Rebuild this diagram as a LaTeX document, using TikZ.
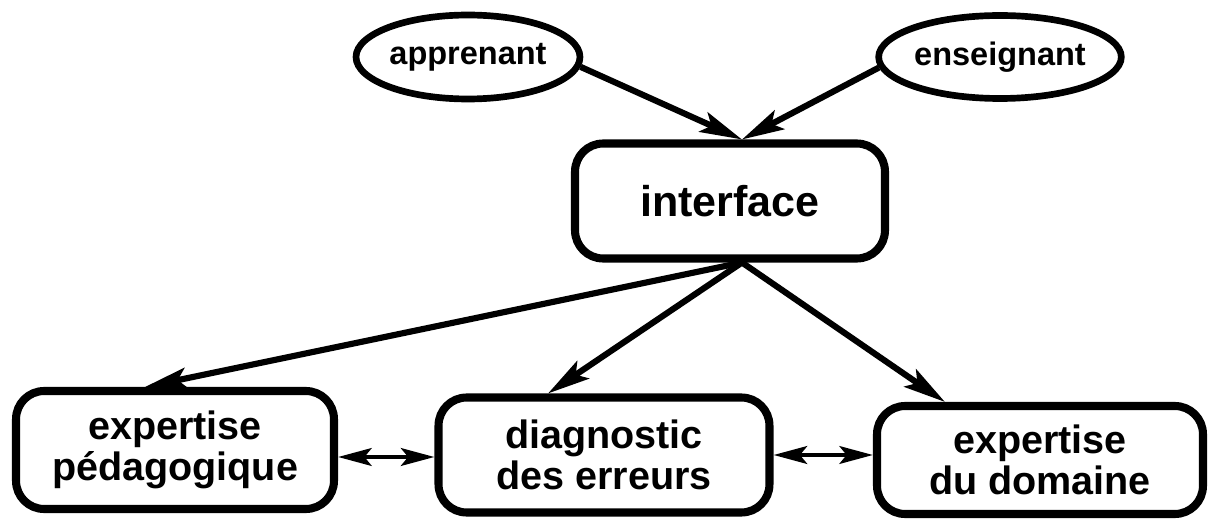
\documentclass[tikz,border=0pt]{standalone}
\usepackage{fontspec}
\setmainfont{Liberation Sans}
\usepackage{tikz}
\usetikzlibrary{calc,shapes.geometric}
\usetikzlibrary{arrows.meta}
\tikzstyle{actor}=[ellipse,draw,line width=3.8pt,inner sep=0pt,font=\fontsize{18.5}{21}\selectfont\bfseries]
\tikzstyle{module}=[rectangle,draw,rounded corners=16pt,line width=4.6pt,inner sep=0pt,align=center,font=\fontsize{22.5}{23.5}\selectfont\bfseries]
\tikzstyle{flow}=[-{Stealth[length=24pt,width=12pt,inset=5pt]},line width=3.5pt]
\tikzstyle{link}=[{Stealth[length=19pt,width=10pt,inset=4pt]}-{Stealth[length=19pt,width=10pt,inset=4pt]},line width=2.8pt]

\begin{document}
\begin{tikzpicture}[x=0.02cm,y=-0.02cm]
    \useasboundingbox (0,0) rectangle (1215,520);

    % the two users
    \node[actor,minimum width=4.48cm,minimum height=1.68cm] (app) at (468,57) {apprenant};
    \node[actor,minimum width=4.58cm,minimum height=1.66cm] (ens) at (1000,57) {enseignant};

    % interface box
    \node[module,minimum width=6.2cm,minimum height=2.3cm,font=\fontsize{24.5}{26}\selectfont\bfseries] (iface) at (730,201) {interface};
    \coordinate (itop) at ($(iface.north)+(12,0)$);
    \coordinate (ibot) at ($(iface.south)+(12,0)$);

    % the three modules
    \node[module,minimum width=6.36cm,minimum height=2.36cm] (ped) at (175,450) {expertise\\p\'edagogique};
    \node[module,minimum width=6.62cm,minimum height=2.3cm] (diag) at (604,455) {diagnostic\\des erreurs};
    \node[module,minimum width=6.52cm,minimum height=2.16cm] (dom) at (1040,460) {expertise\\du domaine};

    % users into the interface
    \draw[flow] (app.-5) -- (itop);
    \draw[flow] (ens.185) -- (itop);

    % interface down to the modules
    \draw[flow] (ibot) -- ($(ped.north)+(-30,0)$);
    \draw[flow] (ibot) -- ($(diag.north)+(-56,0)$);
    \draw[flow] (ibot) -- ($(dom.north)+(-95,0)$);

    % exchanges between modules
    \draw[link] ($(ped.east)+(0,7)$) -- ($(diag.west)+(0,2)$);
    \draw[link] ($(diag.east)+(0,0)$) -- ($(dom.west)+(0,-5)$);
\end{tikzpicture}
\end{document}
